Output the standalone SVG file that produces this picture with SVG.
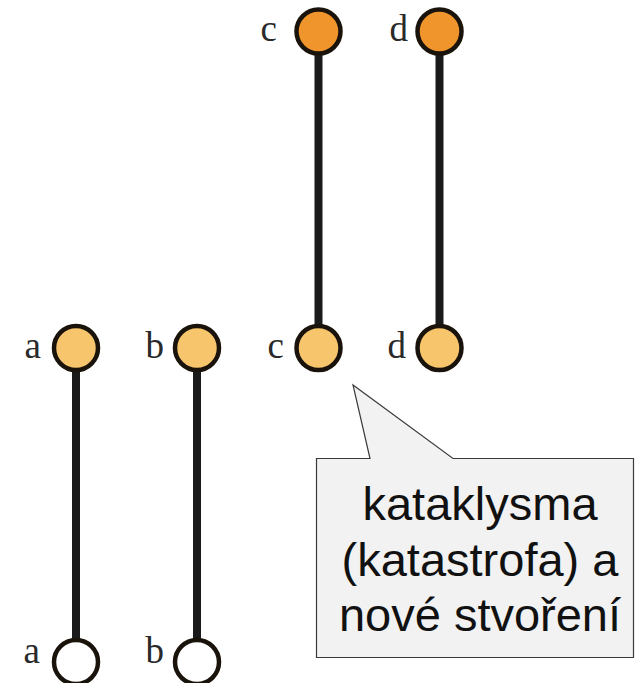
<svg xmlns="http://www.w3.org/2000/svg" width="635" height="683" viewBox="0 0 635 683">
<style>
.lbl{font-family:"Liberation Serif","DejaVu Serif",serif;font-size:37px;fill:#2a2a2a;text-anchor:end}
.node{stroke:#1a130c;stroke-width:4.5}
.top{fill:#ef952b}
.mid{fill:#f7c66c}
.bot{fill:#ffffff}
.conn line{stroke:#1a1a1a;stroke-width:8}
.callout{font-family:"Liberation Sans",Arial,sans-serif;font-size:47px;fill:#111;text-anchor:middle}
</style>
<rect width="635" height="683" fill="#ffffff"/>
<g id="connectors" class="conn">
<line x1="76" y1="370" x2="76" y2="640"/>
<line x1="197" y1="370" x2="197" y2="640"/>
<line x1="318.5" y1="52" x2="318.5" y2="327"/>
<line x1="439.5" y1="52" x2="439.5" y2="327"/>
</g>
<g id="node-c-top"><circle class="node top" cx="318.5" cy="31.5" r="22"/><text class="lbl" x="277" y="41">c</text></g>
<g id="node-d-top"><circle class="node top" cx="439.5" cy="31.5" r="22"/><text class="lbl" x="408" y="41">d</text></g>
<g id="node-a-mid"><circle class="node mid" cx="76" cy="348" r="22"/><text class="lbl" x="41" y="358">a</text></g>
<g id="node-b-mid"><circle class="node mid" cx="197" cy="348" r="22"/><text class="lbl" x="164" y="358">b</text></g>
<g id="node-c-mid"><circle class="node mid" cx="318.5" cy="348" r="22"/><text class="lbl" x="284" y="358">c</text></g>
<g id="node-d-mid"><circle class="node mid" cx="439.5" cy="348" r="22"/><text class="lbl" x="406" y="358">d</text></g>
<g id="node-a-bot"><circle class="node bot" cx="76" cy="662" r="22"/><text class="lbl" x="40" y="663">a</text></g>
<g id="node-b-bot"><circle class="node bot" cx="197" cy="662" r="22"/><text class="lbl" x="164" y="663">b</text></g>
<g id="callout">
<path d="M316.5 458.5 H370 L353 385 L453 458.5 H633.5 V657.5 H316.5 Z" fill="#f2f2f2" stroke="#3a3a3a" stroke-width="1.2"/>
<text class="callout" x="480" y="520">kataklysma</text>
<text class="callout" x="480" y="575.5">(katastrofa) a</text>
<text class="callout" x="480" y="631">nové stvoření</text>
</g>
</svg>
